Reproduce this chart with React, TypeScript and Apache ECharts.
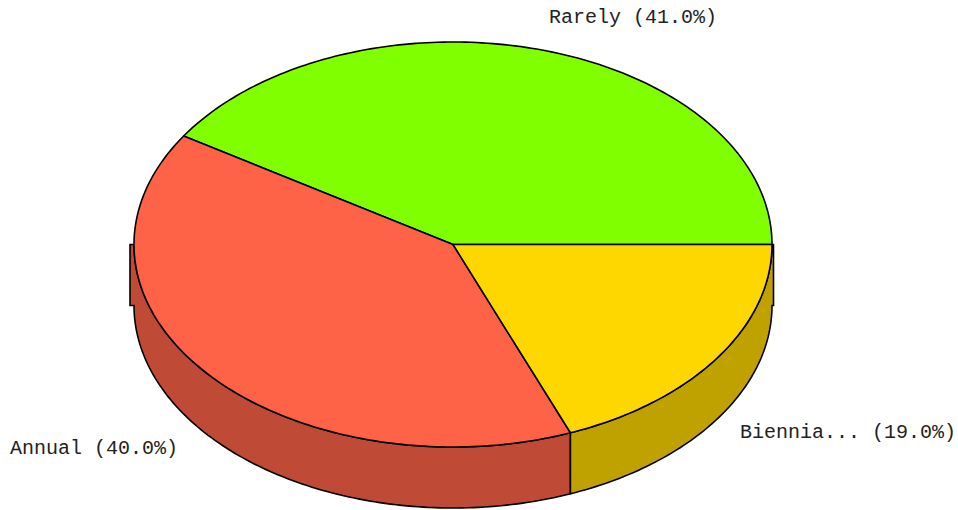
import React, { useEffect, useRef } from "react";
import * as echarts from "echarts";

const categories = ["Rarely", "Annual", "Biennia..."];
const shares = [41, 40, 19];
const topColors = ["#7FFF00", "#FF6347", "#FFD700"];
const wallColors = ["#5FBF00", "#BF4A35", "#BFA100"];

const WIDTH = 958;
const HEIGHT = 510;
const CX = 453;
const CY = 244.5;
const RX = 319;
const RY = 202.5;
const DEPTH = 61;
const LEFT_LIP = 4;
const RIGHT_LIP = 1.5;
const LINE = 1.6;
const FONT = '20px "Liberation Mono", monospace';
const TEXT_COLOR = "#222222";
const labelAnchors: [number, number][] = [
  [633, 17],
  [94, 448],
  [848, 432],
];

const total = shares.reduce((a, b) => a + b, 0);

function startAngle(index: number) {
  let sum = 0;
  for (let i = 0; i < index; i++) sum += shares[i];
  return (sum / total) * 360;
}

function arcPoint(deg: number, dy = 0): [number, number] {
  const r = (deg * Math.PI) / 180;
  return [CX + RX * Math.cos(r), CY - RY * Math.sin(r) + dy];
}

function arc(from: number, to: number, dy = 0) {
  const pts: [number, number][] = [];
  const n = Math.max(2, Math.ceil(Math.abs(to - from)));
  for (let i = 0; i <= n; i++) pts.push(arcPoint(from + ((to - from) * i) / n, dy));
  return pts;
}

function renderWall(params: any, api: any) {
  const idx = params.dataIndex;
  const a0 = startAngle(idx);
  const a1 = a0 + (api.value(0) / total) * 360;
  const from = Math.max(a0, 180);
  const to = Math.min(a1, 360);
  if (to <= from) return { type: "group", children: [] };
  const upper = arc(from, to);
  const lower = arc(from, to, DEPTH).reverse();
  const pts: [number, number][] = [...upper];
  if (to === 360) {
    pts.push([CX + RX + RIGHT_LIP, CY], [CX + RX + RIGHT_LIP, CY + DEPTH]);
  }
  pts.push(...lower);
  if (from === 180) {
    pts.push([CX - RX - LEFT_LIP, CY + DEPTH], [CX - RX - LEFT_LIP, CY]);
  }
  return {
    type: "polygon",
    shape: { points: pts },
    style: { fill: wallColors[idx], stroke: "#000", lineWidth: LINE },
  };
}

function renderTop(params: any, api: any) {
  const idx = params.dataIndex;
  const a0 = startAngle(idx);
  const v = api.value(0);
  const a1 = a0 + (v / total) * 360;
  const pts: [number, number][] = [[CX, CY], ...arc(a0, a1)];
  return {
    type: "group",
    children: [
      {
        type: "polygon",
        shape: { points: pts },
        style: { fill: topColors[idx], stroke: "#000", lineWidth: LINE, lineJoin: "round" },
      },
      {
        type: "text",
        x: labelAnchors[idx][0],
        y: labelAnchors[idx][1],
        style: {
          text: `${categories[idx]} (${((v / total) * 100).toFixed(1)}%)`,
          font: FONT,
          fill: TEXT_COLOR,
          textAlign: "center",
          textVerticalAlign: "middle",
        },
      },
    ],
  };
}

export default function App() {
  const ref = useRef<HTMLDivElement>(null);
  useEffect(() => {
    const chart = echarts.init(ref.current!, undefined, { renderer: "svg" });
    const data = categories.map((name, i) => ({ name, value: [shares[i]] }));
    chart.setOption({
      animation: false,
      backgroundColor: "#ffffff",
      series: [
        { type: "custom", coordinateSystem: "none", renderItem: renderWall, data, z: 1, silent: true },
        { type: "custom", coordinateSystem: "none", renderItem: renderTop, data, z: 2, silent: true },
      ],
    });
    return () => chart.dispose();
  }, []);
  return (
    <div
      ref={ref}
      style={{ position: "fixed", left: 0, top: 0, width: WIDTH, height: HEIGHT, background: "#fff" }}
    />
  );
}
